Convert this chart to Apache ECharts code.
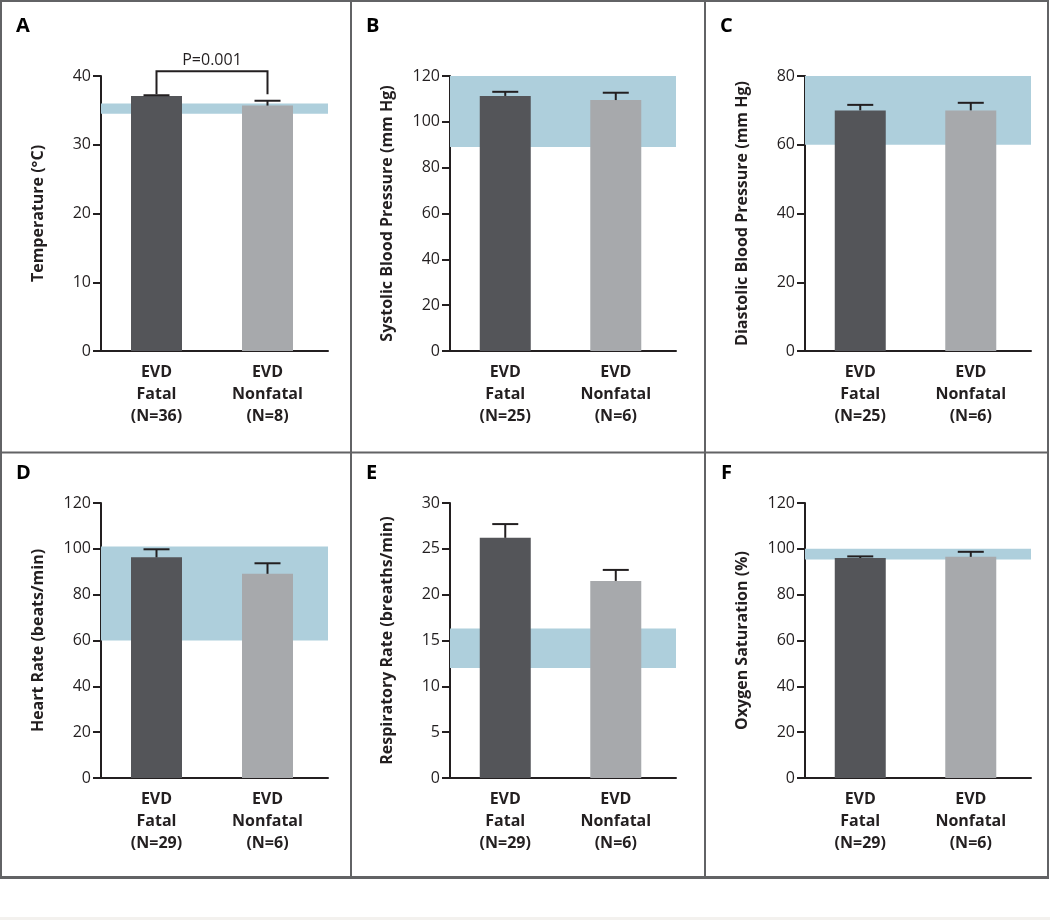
<!DOCTYPE html>
<html>
<head>
<meta charset="utf-8">
<script src="https://cdn.jsdelivr.net/npm/echarts@6/dist/echarts.min.js"></script>
<style>
html,body{margin:0;padding:0;background:#fff;}
#chart{width:1050px;height:920px;}
</style>
</head>
<body>
<div id="chart"></div>
<script>
// ---------- data ----------
const categories = ['EVD\nFatal', 'EVD\nNonfatal'];
const panelLetters = ['A', 'B', 'C', 'D', 'E', 'F'];
const yTitles = ['Temperature (\u00B0C)', 'Systolic Blood Pressure (mm Hg)', 'Diastolic Blood Pressure (mm Hg)',
  'Heart Rate (beats/min)', 'Respiratory Rate (breaths/min)', 'Oxygen Saturation (%)'];
const nFatal = [36, 25, 25, 29, 29, 29];
const nNonfatal = [8, 6, 6, 6, 6, 6];
const yMax = [40, 120, 80, 120, 30, 120];
const yInterval = [10, 20, 20, 20, 5, 20];

const tempMean = [37.1, 35.7];   const tempUpper = [37.2, 36.4];
const sbpMean = [111.3, 109.5];  const sbpUpper = [113.1, 112.7];
const dbpMean = [70.0, 70.0];    const dbpUpper = [71.6, 72.2];
const hrMean = [96.3, 89.1];     const hrUpper = [99.8, 93.7];
const rrMean = [26.2, 21.5];     const rrUpper = [27.7, 22.7];
const o2Mean = [96.0, 96.5];     const o2Upper = [96.7, 98.7];

const normalLow = [34.5, 89, 60, 60, 12, 95.3];
const normalHigh = [36, 120, 80, 101, 16.3, 100];

const pLabel = 'P=0.001';
const pBracketTop = 40.7;   // temperature units
const pBracketLegEnd = 37.35;

// ---------- styling / layout ----------
const means = [tempMean, sbpMean, dbpMean, hrMean, rrMean, o2Mean];
const uppers = [tempUpper, sbpUpper, dbpUpper, hrUpper, rrUpper, o2Upper];
const barColors = ['#545559', '#a7a9ac'];
const bandColor = '#aecfdc';
const ink = '#231f20';
const FONT = '"Open Sans", "Noto Sans", sans-serif';

const gridLefts = [101, 450, 805];
const gridWidths = [227, 226, 226];
const gridTops = [76, 503];
const gridH = 275;
const letterPos = [[16, 16], [366, 16], [720, 16], [16, 463], [366, 463], [721, 463]];

const grids = [], xAxes = [], yAxes = [], series = [], titles = [];
for (let p = 0; p < 6; p++) {
  const col = p % 3, row = Math.floor(p / 3);
  grids.push({left: gridLefts[col], top: gridTops[row], width: gridWidths[col], height: gridH, containLabel: false});
  const labels = [categories[0] + '\n(N=' + nFatal[p] + ')', categories[1] + '\n(N=' + nNonfatal[p] + ')'];
  xAxes.push({
    gridIndex: p, type: 'value', min: -0.5, max: 1.545,
    axisLine: {show: true, onZero: false, lineStyle: {color: ink, width: 2}},
    axisTick: {show: false}, splitLine: {show: false},
    axisLabel: {
      customValues: [0, 1],
      formatter: v => labels[Math.round(v)],
      margin: 10, color: ink, fontFamily: FONT, fontSize: 16, fontWeight: 'bold', lineHeight: 22
    }
  });
  yAxes.push({
    gridIndex: p, type: 'value', min: 0, max: yMax[p], interval: yInterval[p],
    name: yTitles[p], nameLocation: 'middle', nameGap: 55, nameRotate: 90,
    nameTextStyle: {color: ink, fontFamily: FONT, fontSize: 16, fontWeight: 'bold'},
    axisLine: {show: true, onZero: false, lineStyle: {color: ink, width: 2}},
    axisTick: {show: true, length: 8, lineStyle: {color: ink, width: 2}},
    splitLine: {show: false},
    axisLabel: {margin: 10, color: ink, fontFamily: FONT, fontSize: 16}
  });
  series.push({
    type: 'bar', xAxisIndex: p, yAxisIndex: p, barWidth: 51, z: 2,
    data: means[p].map((v, i) => ({value: [i, v], itemStyle: {color: barColors[i]}})),
    markArea: {silent: true, z: 1, itemStyle: {color: bandColor}, data: [[{yAxis: normalLow[p]}, {yAxis: normalHigh[p]}]]},
    animation: false
  });
  series.push({
    type: 'custom', xAxisIndex: p, yAxisIndex: p, z: 5, clip: false,
    data: means[p].map((v, i) => [i, v, uppers[p][i]]),
    encode: {x: 0, y: [1, 2]},
    renderItem: (params, api) => {
      const a = api.coord([api.value(0), api.value(1)]);
      const b = api.coord([api.value(0), api.value(2)]);
      const st = {stroke: ink, lineWidth: 2};
      return {type: 'group', children: [
        {type: 'line', shape: {x1: a[0], y1: a[1], x2: b[0], y2: b[1]}, style: st},
        {type: 'line', shape: {x1: b[0] - 13, y1: b[1], x2: b[0] + 13, y2: b[1]}, style: st}
      ]};
    },
    animation: false
  });
  titles.push({text: panelLetters[p], left: letterPos[p][0], top: letterPos[p][1], padding: 0,
    textStyle: {fontFamily: FONT, fontSize: 20, fontWeight: 'bold', color: '#000'}});
}

// P-value bracket on panel A
series.push({
  type: 'custom', xAxisIndex: 0, yAxisIndex: 0, z: 6, clip: false,
  data: [[0, 1, pBracketTop, pBracketLegEnd]],
  encode: {x: [0, 1], y: [2, 3]},
  renderItem: (params, api) => {
    const l = api.coord([api.value(0), api.value(2)]);
    const r = api.coord([api.value(1), api.value(2)]);
    const le = api.coord([api.value(0), api.value(3)]);
    const st = {stroke: ink, lineWidth: 2, fill: null};
    return {type: 'group', children: [
      {type: 'polyline', shape: {points: [[le[0], le[1]], [l[0], l[1]], [r[0], r[1]], [r[0], le[1]]]}, style: st},
      {type: 'text', x: (l[0] + r[0]) / 2, y: l[1] - 3,
        style: {text: pLabel, fill: ink, font: '16px ' + FONT, align: 'center', verticalAlign: 'bottom'}}
    ]};
  },
  animation: false
});

const frame = '#626365';
const graphic = [
  {type: 'rect', shape: {x: 1, y: 1, width: 1047, height: 876}, style: {fill: null, stroke: frame, lineWidth: 2}, z: 10},
  {type: 'line', shape: {x1: 0, y1: 877.5, x2: 1049, y2: 877.5}, style: {stroke: frame, lineWidth: 3}, z: 10},
  {type: 'line', shape: {x1: 351, y1: 1, x2: 351, y2: 877}, style: {stroke: frame, lineWidth: 2}, z: 10},
  {type: 'line', shape: {x1: 705, y1: 1, x2: 705, y2: 877}, style: {stroke: frame, lineWidth: 2}, z: 10},
  {type: 'line', shape: {x1: 1, y1: 452.5, x2: 1048, y2: 452.5}, style: {stroke: frame, lineWidth: 2}, z: 10},
  {type: 'rect', shape: {x: 0, y: 917, width: 1050, height: 3}, style: {fill: '#f3f1ee'}, z: 1}
];

const chart = echarts.init(document.getElementById('chart'), null, {renderer: 'canvas'});
chart.setOption({
  backgroundColor: '#ffffff',
  animation: false,
  title: titles,
  grid: grids,
  xAxis: xAxes,
  yAxis: yAxes,
  series: series,
  graphic: graphic
});
</script>
</body>
</html>
